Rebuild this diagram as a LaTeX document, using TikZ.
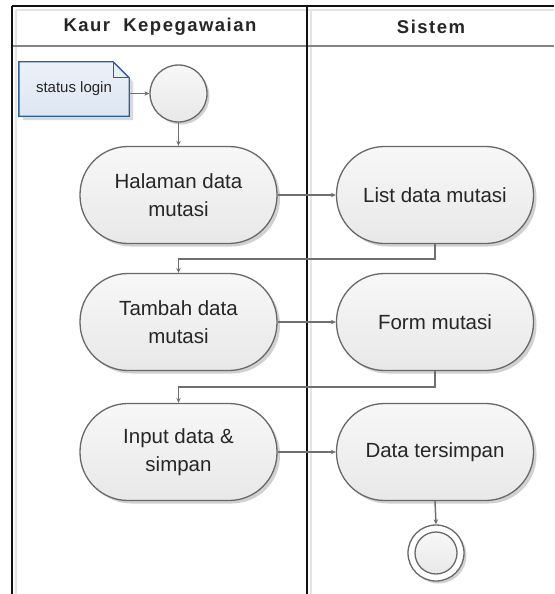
\documentclass[tikz,border=0pt]{standalone}
\usepackage{fontspec}
\setmainfont{Liberation Sans}
\newfontfamily\headfont[LetterSpace=8]{Liberation Sans}
\usetikzlibrary{arrows.meta,shadows,calc}

\definecolor{lanedark}{HTML}{111111}
\definecolor{laneshade}{HTML}{E4E4E4}
\definecolor{headsep}{HTML}{858585}
\definecolor{shapeedge}{HTML}{686868}
\definecolor{flowline}{HTML}{707070}
\definecolor{notefill}{HTML}{DCE6F2}
\definecolor{noteedge}{HTML}{2F5E9C}
\definecolor{txt}{HTML}{262626}

\tikzset{
  lanehead/.style={font=\headfont\fontsize{18.5}{22}\selectfont\bfseries, text=txt},
  activity/.style={rectangle, rounded corners=48pt, draw=shapeedge, line width=1.3pt,
    top color=white!97!black, bottom color=white!91!black,
    minimum width=197pt, minimum height=97pt, align=center, text=txt,
    font=\fontsize{20.5}{28}\selectfont,
    drop shadow={shadow xshift=3pt, shadow yshift=-3pt, opacity=0.18, fill=black}},
  startnode/.style={circle, draw=shapeedge, line width=1.3pt,
    top color=white!97!black, bottom color=white!91!black, minimum size=57pt,
    drop shadow={shadow xshift=2.5pt, shadow yshift=-2.5pt, opacity=0.18, fill=black}},
  endouter/.style={circle, draw=shapeedge, line width=1.3pt, fill=white,
    minimum size=56pt,
    drop shadow={shadow xshift=2.5pt, shadow yshift=-2.5pt, opacity=0.18, fill=black}},
  endinner/.style={circle, draw=shapeedge, line width=1.3pt,
    top color=white!97!black, bottom color=white!91!black, minimum size=42pt},
  flow/.style={draw=flowline, line width=1.5pt,
    -{Stealth[length=5pt,width=4.5pt]}},
}

\begin{document}
\begin{tikzpicture}[x=1pt, y=-1pt]
\useasboundingbox (0,0) rectangle (554,594);

% swimlane frame
\coordinate (tl) at (12,6);
\coordinate (tr) at (554,6);
\coordinate (mid) at (307,6);
\draw[laneshade, line width=2pt] (16,10) -- (554,10);
\draw[laneshade, line width=2pt] (16,10) -- (16,594);
\draw[laneshade, line width=2pt] (311,10) -- (311,594);
\draw[headsep, line width=2pt] (12,46) -- (554,46);
\draw[lanedark, line width=2pt] (tl) -- (tr);
\draw[lanedark, line width=2pt] (tl) -- (12,594);
\draw[lanedark, line width=2pt] (mid) -- (307,594);

\node[lanehead] (laneA) at (160,27) {Kaur\ \ Kepegawaian};
\node[lanehead] (laneB) at (431,27) {Sistem};

% note with folded corner
\node[minimum width=110pt, minimum height=54pt, inner sep=0pt] (note) at (74,89) {};
\fill[black, opacity=0.15]
  ($(note.north west)+(4,4)$) -- ($(note.north east)+(-12,4)$) -- ($(note.north east)+(4,20)$)
  -- ($(note.south east)+(4,4)$) -- ($(note.south west)+(4,4)$) -- cycle;
\draw[noteedge, line width=1.4pt, top color=notefill!55!white, bottom color=notefill]
  (note.north west) -- ($(note.north east)+(-16,0)$) -- ($(note.north east)+(0,16)$)
  -- (note.south east) -- (note.south west) -- cycle;
\draw[noteedge, line width=1.2pt]
  ($(note.north east)+(-16,0)$) -- ($(note.north east)+(-16,16)$) -- ($(note.north east)+(0,16)$);
\node[text=txt, font=\fontsize{15}{18}\selectfont] (notetext) at (note.center) {status login};

% activity nodes
\node[startnode] (start) at (178.5,93.5) {};
\node[activity] (halaman) at (178.5,195) {Halaman data\\mutasi};
\node[activity] (list) at (435,195) {List data mutasi};
\node[activity] (tambah) at (178.5,322) {Tambah data\\mutasi};
\node[activity] (form) at (435,322) {Form mutasi};
\node[activity] (input) at (178.5,452) {Input data \&\\simpan};
\node[activity] (simpan) at (435,452) {Data tersimpan};
\node[endouter] (final) at (436,553) {};
\node[endinner] (finalin) at (final.center) {};

% connectors
\draw[flow] (note.east |- start) -- (start.west);
\draw[flow] (start.south) -- (halaman.north);
\draw[flow] (halaman.east) -- (list.west);
\draw[flow] (list.south) -- ++(0,15) -| (tambah.north);
\draw[flow] (tambah.east) -- (form.west);
\draw[flow] (form.south) -- ++(0,16) -| (input.north);
\draw[flow] (input.east) -- (simpan.west);
\draw[flow] (simpan.south) -- (final.north);
\end{tikzpicture}
\end{document}
